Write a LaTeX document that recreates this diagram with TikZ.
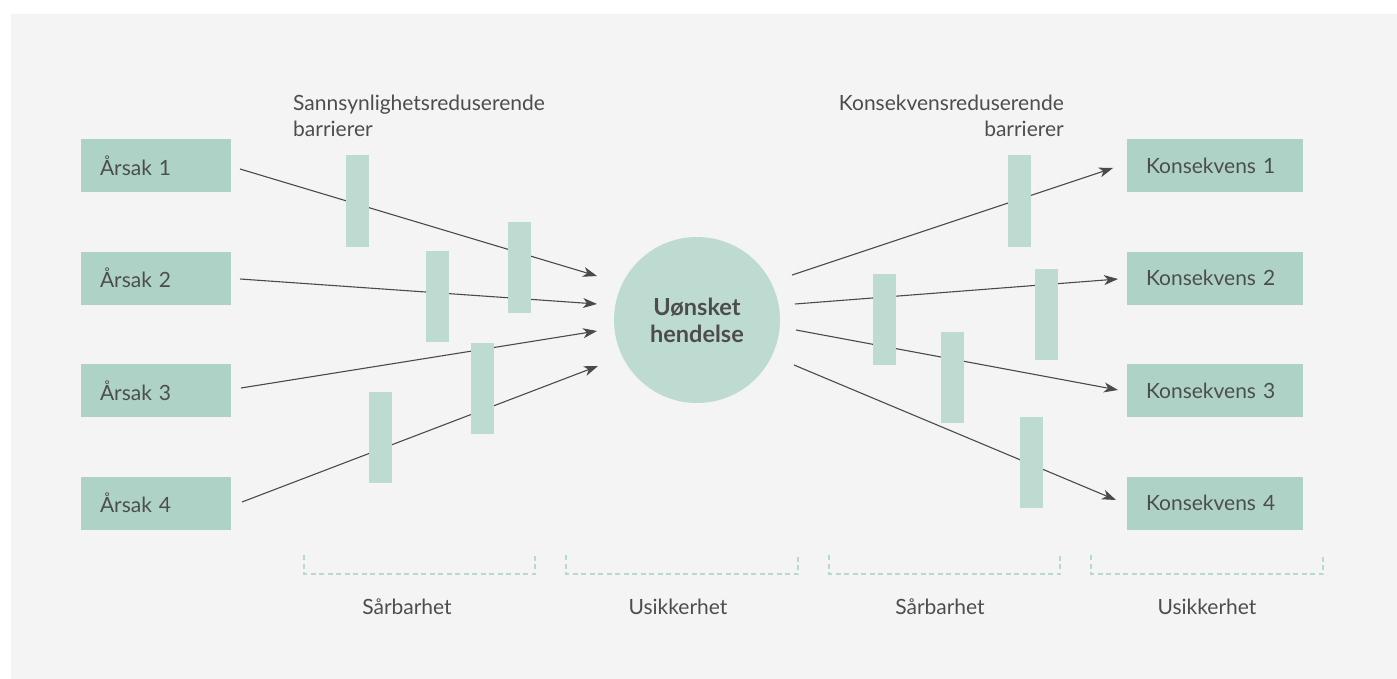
\documentclass[tikz,border=0pt]{standalone}
\usepackage{fontspec}
\setmainfont{Lato}
\usetikzlibrary{arrows.meta}
\definecolor{bgc}{HTML}{F4F4F4}
\definecolor{boxc}{HTML}{AED3C6}
\definecolor{barc}{HTML}{BEDBD2}
\definecolor{dashc}{HTML}{B8D9CE}
\definecolor{txtc}{HTML}{4D4D4D}
\definecolor{arrc}{HTML}{4A4A4A}
\begin{document}
\begin{tikzpicture}[x=1pt,y=-1pt,
  every node/.style={text=txtc, font=\fontsize{21}{25}\selectfont},
  lbox/.style={fill=boxc, minimum height=53pt, text width=112pt, inner xsep=19pt, inner ysep=0pt, align=left},
  rbox/.style={fill=boxc, minimum height=53pt, text width=138pt, inner xsep=19pt, inner ysep=0pt, align=left},
  barrier/.style={fill=barc, minimum width=23pt, minimum height=91pt, inner sep=0pt},
  flow/.style={draw=arrc, line width=1.1pt, -{Stealth[length=14pt,width=10pt,inset=4pt]}},
  bracket/.style={draw=dashc, line width=2.5pt, dash pattern=on 5pt off 3.5pt},
  lbl/.style={inner sep=0pt}
]
\useasboundingbox (0,0) rectangle (1397,679);
\fill[white] (0,0) rectangle (1397,679);
\fill[bgc] (11,14) rectangle (1397,679);

% cause boxes
\node[lbox] (a1) at (156,165.5) {Årsak 1};
\node[lbox] (a2) at (156,278) {Årsak 2};
\node[lbox] (a3) at (156,390.5) {Årsak 3};
\node[lbox] (a4) at (156,503) {Årsak 4};
% consequence boxes
\node[rbox] (k1) at (1215,165.5) {Konsekvens 1};
\node[rbox] (k2) at (1215,278) {Konsekvens 2};
\node[rbox] (k3) at (1215,390.5) {Konsekvens 3};
\node[rbox] (k4) at (1215,503) {Konsekvens 4};

% central event
\node[circle, fill=barc, minimum size=166pt, inner sep=0pt, align=center,
      font=\bfseries\fontsize{23.5}{27}\selectfont] (ev) at (697,320) {Uønsket\\hendelse};

% arrow end points
\coordinate (s1) at (240,169);  \coordinate (e1) at (597,276);
\coordinate (s2) at (240,279);  \coordinate (e2) at (597,304);
\coordinate (s3) at (241,388);  \coordinate (e3) at (597,331);
\coordinate (s4) at (242,502);  \coordinate (e4) at (598,366);
\coordinate (t1) at (792,275);  \coordinate (f1) at (1113,168);
\coordinate (t2) at (795,304);  \coordinate (f2) at (1118,279);
\coordinate (t3) at (796,330);  \coordinate (f3) at (1118,390);
\coordinate (t4) at (794,365);  \coordinate (f4) at (1116,500);

\draw[flow] (s1) -- (e1);
\draw[flow] (s2) -- (e2);
\draw[flow] (s3) -- (e3);
\draw[flow] (s4) -- (e4);
\draw[flow] (t1) -- (f1);
\draw[flow] (t2) -- (f2);
\draw[flow] (t3) -- (f3);
\draw[flow] (t4) -- (f4);

% barriers
\node[barrier] (b1) at (357.5,201) {};
\node[barrier] (b2) at (437.5,296) {};
\node[barrier] (b3) at (519.5,267.5) {};
\node[barrier] (b4) at (482.5,388) {};
\node[barrier] (b5) at (380.5,437) {};
\node[barrier] (c1) at (1019.5,201) {};
\node[barrier] (c2) at (1046.5,314) {};
\node[barrier] (c3) at (884.5,319) {};
\node[barrier] (c4) at (952.5,377) {};
\node[barrier] (c5) at (1031.5,462) {};

% headings
\node[lbl, anchor=base west] (h1a) at (293,111) {Sannsynlighetsreduserende};
\node[lbl, anchor=base west] (h1b) at (293,137) {barrierer};
\node[lbl, anchor=base east] (h2a) at (1064,111) {Konsekvensreduserende};
\node[lbl, anchor=base east] (h2b) at (1064,137) {barrierer};

% brackets
\draw[bracket] (304,555) -- (304,574) -- (535,574) -- (535,555);
\draw[bracket] (566,555) -- (566,574) -- (798,574) -- (798,555);
\draw[bracket] (829,555) -- (829,574) -- (1060,574) -- (1060,555);
\draw[bracket] (1091,555) -- (1091,574) -- (1323,574) -- (1323,555);

\node[lbl, anchor=base] (l1) at (407,614) {Sårbarhet};
\node[lbl, anchor=base] (l2) at (678,614) {Usikkerhet};
\node[lbl, anchor=base] (l3) at (940,614) {Sårbarhet};
\node[lbl, anchor=base] (l4) at (1207,614) {Usikkerhet};
\end{tikzpicture}
\end{document}
